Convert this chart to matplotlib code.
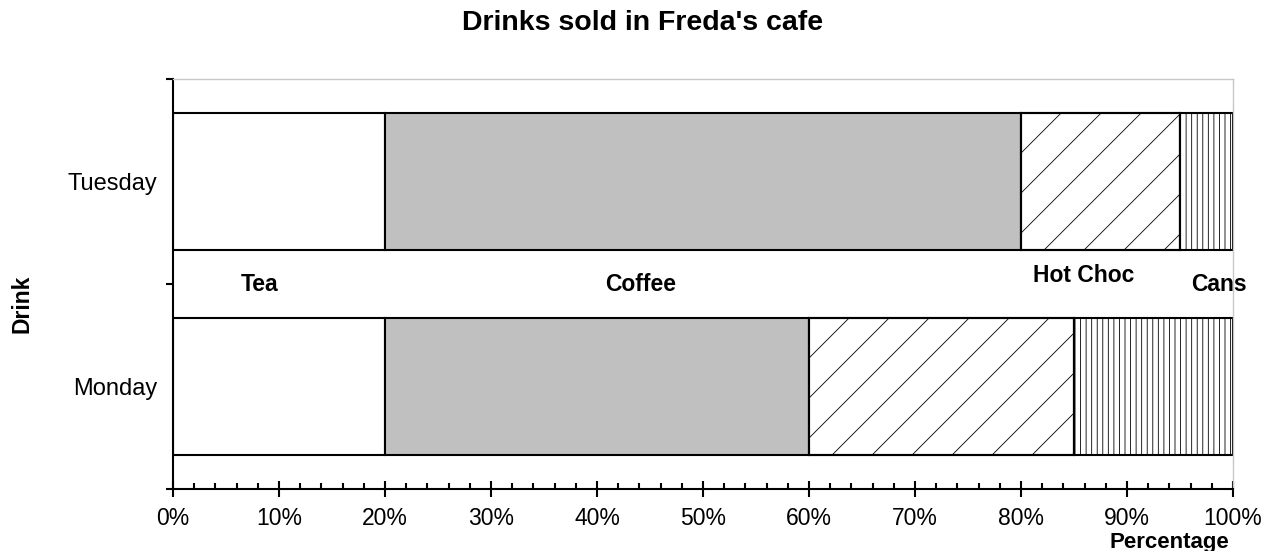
import numpy as np
import matplotlib
matplotlib.use('Agg')
import matplotlib.pyplot as plt
from matplotlib.ticker import MultipleLocator, PercentFormatter

plt.rcParams['font.family'] = ['Liberation Sans', 'DejaVu Sans']
plt.rcParams['hatch.linewidth'] = 0.6

# data (percent of drinks sold)
days = ['Monday', 'Tuesday']
drinks = ['Tea', 'Coffee', 'Hot Choc', 'Cans']
tea = [20, 20]
coffee = [40, 60]
hot_choc = [25, 15]
cans = [15, 5]

# where the drink names sit on the chart (text baseline)
label_x = [8.2, 44.1, 85.9, 98.7]
label_y = [0.466, 0.466, 0.510, 0.466]

fig = plt.figure(figsize=(12.75, 5.51), dpi=100)
ax = fig.add_axes([0.1357, 0.1125, 0.9671 - 0.1357, 0.8566 - 0.1125])
ax.set_xlim(0, 100)
ax.set_ylim(-0.5, 1.5)

ypos = np.arange(len(days))
bar_h = 0.668
series = [tea, coffee, hot_choc, cans]
styles = [
    dict(color='white', hatch=None),
    dict(color='#c0c0c0', hatch=None),
    dict(color='white', hatch=None),   # diagonal lines drawn by hand below
    dict(color='white', hatch='|||'),
]

left = np.zeros(len(days))
bar_groups = []
for vals, st in zip(series, styles):
    bars = ax.barh(ypos, vals, left=left, height=bar_h, color=st['color'],
                   hatch=st['hatch'], edgecolor='black', linewidth=1.5, zorder=2)
    bar_groups.append(bars)
    left = left + np.array(vals)

# sparse 45 degree hatching for Hot Choc (matplotlib hatch is too dense)
spacing = 40  # pixels
to_disp = ax.transData
to_data = ax.transData.inverted()
for patch in bar_groups[2]:
    x0, y0 = patch.get_x(), patch.get_y()
    x1, y1 = x0 + patch.get_width(), y0 + patch.get_height()
    (px0, py0), (px1, py1) = to_disp.transform([(x0, y0), (x1, y1)])
    h = py1 - py0
    for c in np.arange(px0 - h, px1 + spacing, spacing):
        pts = to_data.transform([(c, py0), (c + h, py1)])
        line, = ax.plot(pts[:, 0], pts[:, 1], color='black', lw=0.6, zorder=2.5)
        line.set_clip_path(patch)
    # redraw edge on top
    ax.add_patch(plt.Rectangle((x0, y0), x1 - x0, y1 - y0, fill=False,
                               edgecolor='black', linewidth=1.5, zorder=3))

for name, lx, ly in zip(drinks, label_x, label_y):
    ax.text(lx, ly, name, ha='center', va='baseline', fontsize=16.5,
            fontweight='bold', zorder=4)

# axes styling
for side in ['top', 'right']:
    ax.spines[side].set_color('#c8c8c8')
    ax.spines[side].set_linewidth(1.0)
for side in ['left', 'bottom']:
    ax.spines[side].set_linewidth(1.5)

ax.xaxis.set_major_locator(MultipleLocator(10))
ax.xaxis.set_minor_locator(MultipleLocator(2))
ax.xaxis.set_major_formatter(PercentFormatter(decimals=0))
ax.tick_params(axis='x', which='major', direction='inout', length=11.5,
               width=1.5, labelsize=16.5, pad=7.5)
ax.tick_params(axis='x', which='minor', direction='in', length=4, width=1.5)

ax.set_yticks(ypos)
ax.set_yticklabels(days)
ax.set_yticks([-0.5, 0.5, 1.5], minor=True)
ax.tick_params(axis='y', which='major', length=0, labelsize=17, pad=11)
ax.tick_params(axis='y', which='minor', direction='out', length=5, width=1.5)

fig.text(0.504, 1 - 30 / 551, "Drinks sold in Freda's cafe", fontsize=20.5,
         fontweight='bold', ha='center', va='baseline')

ax.set_xlabel('Percentage', fontsize=16, fontweight='bold', ha='right', va='baseline')
ax.xaxis.set_label_coords(1.0 - 4 / 1060, -(548 - 489) / 410)
ax.set_ylabel('Drink', fontsize=16.5, fontweight='bold', va='center')
ax.yaxis.set_label_coords(-(173 - 22) / 1060, (489 - 304) / 410)

fig.savefig('out.png', dpi=100, facecolor='white')
